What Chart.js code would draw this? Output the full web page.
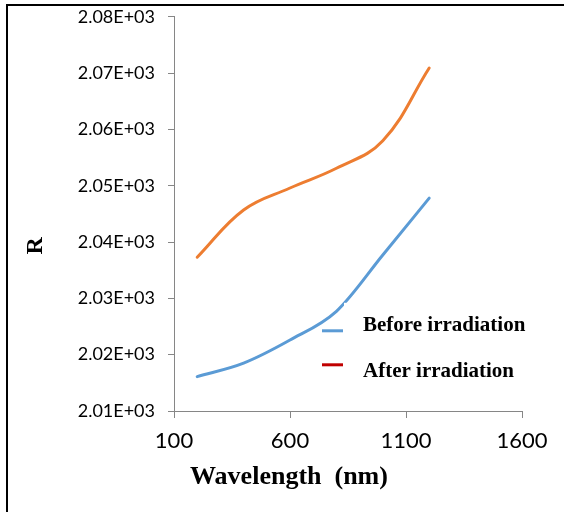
<!DOCTYPE html>
<html>
<head>
<meta charset="utf-8">
<script src="https://cdn.jsdelivr.net/npm/chart.js@4"></script>
<style>
  html, body { margin: 0; padding: 0; background: #fff; overflow: hidden; }
  #wrap { position: relative; width: 564px; height: 512px; overflow: hidden; }
  #marco {
    position: absolute; left: 6px; top: 4px; right: 0; bottom: 0;
    border-top: 2px solid #000; border-left: 2px solid #000;
    pointer-events: none;
  }
  canvas { position: absolute; left: 0; top: -7px; }
</style>
</head>
<body>
<div id="wrap">
  <canvas id="Reflectancia" width="564" height="519"></canvas>
  <div id="marco"></div>
</div>
<script>
// datos
var longitudes = [200, 400, 600, 800, 1000, 1200];
var antes = [2016.1, 2018.5, 2022.6, 2027.7, 2037.7, 2047.8];
var despues = [2037.3, 2045.7, 2049.6, 2053.1, 2058.0, 2070.9];
var etiquetas = ["Before irradiation", "After irradiation"];
var coloresLeyenda = ["#5B9BD5", "#C00000"];

function puntos(valores) {
  return longitudes.map(function (x, i) {
    return { x: x, y: valores[i] };
  });
}

// leyenda y titulos de ejes dibujados a mano
var extras = {
  id: "extras",
  afterDatasetsDraw: function (chart) {
    var ctx = chart.ctx;
    var area = chart.chartArea;
    ctx.save();
    ctx.fillStyle = "#fff";
    ctx.fillRect(area.left + 170, area.top + 286, 190, 95);
    for (var i = 0; i < etiquetas.length; i++) {
      var yLinea = area.top + 314 + i * 34;
      var yTexto = area.top + 309 + i * 46;
      ctx.strokeStyle = coloresLeyenda[i];
      ctx.lineWidth = 3;
      ctx.beginPath();
      ctx.moveTo(area.left + 148, yLinea);
      ctx.lineTo(area.left + 169, yLinea);
      ctx.stroke();
      ctx.fillStyle = "#000";
      ctx.font = "bold 21px 'Liberation Serif'";
      ctx.textBaseline = "middle";
      ctx.textAlign = "left";
      ctx.fillText(etiquetas[i], area.left + 189, yTexto);
    }
    ctx.font = "bold 26px 'Liberation Serif'";
    ctx.textAlign = "center";
    ctx.textBaseline = "middle";
    ctx.fillText("Wavelength  (nm)", 289, area.bottom + 66);
    ctx.font = "bold 24px 'Liberation Serif'";
    ctx.translate(36, (area.top + area.bottom) / 2 + 32);
    ctx.rotate(-Math.PI / 2);
    ctx.fillText("R", 0, 0);
    ctx.restore();
  },
};

new Chart(document.getElementById("Reflectancia"), {
  type: "line",
  data: {
    datasets: [
      {
        label: etiquetas[0],
        data: puntos(antes),
        borderColor: "#5B9BD5",
        borderWidth: 3,
        pointRadius: 0,
        cubicInterpolationMode: "monotone",
        borderCapStyle: "round",
      },
      {
        label: etiquetas[1],
        data: puntos(despues),
        borderColor: "#ED7D31",
        borderWidth: 3,
        pointRadius: 0,
        tension: 0.4,
        borderCapStyle: "round",
      },
    ],
  },
  options: {
    responsive: false,
    animation: false,
    layout: {
      autoPadding: false,
      padding: { top: 17, right: 42, left: 0, bottom: 0 },
    },
    plugins: {
      legend: { display: false },
      tooltip: { enabled: false },
    },
    scales: {
      x: {
        type: "linear",
        min: 100,
        max: 1600,
        afterFit: function (scale) {
          scale.height = 101;
        },
        ticks: {
          stepSize: 500,
          padding: 10,
          color: "#000",
          font: { family: "Lato", size: 22 },
          callback: function (v) {
            return String(v);
          },
        },
        grid: { drawOnChartArea: false, tickLength: 7, color: "#868686" },
        border: { color: "#868686" },
      },
      y: {
        min: 2010,
        max: 2080,
        afterFit: function (scale) {
          scale.width = 174;
        },
        ticks: {
          stepSize: 10,
          padding: 13,
          color: "#000",
          font: { family: "Lato", size: 18 },
          callback: function (v) {
            return (v / 1000).toFixed(2) + "E+03";
          },
        },
        grid: { drawOnChartArea: false, tickLength: 6, color: "#868686" },
        border: { color: "#868686" },
      },
    },
  },
  plugins: [extras],
});
</script>
</body>
</html>
